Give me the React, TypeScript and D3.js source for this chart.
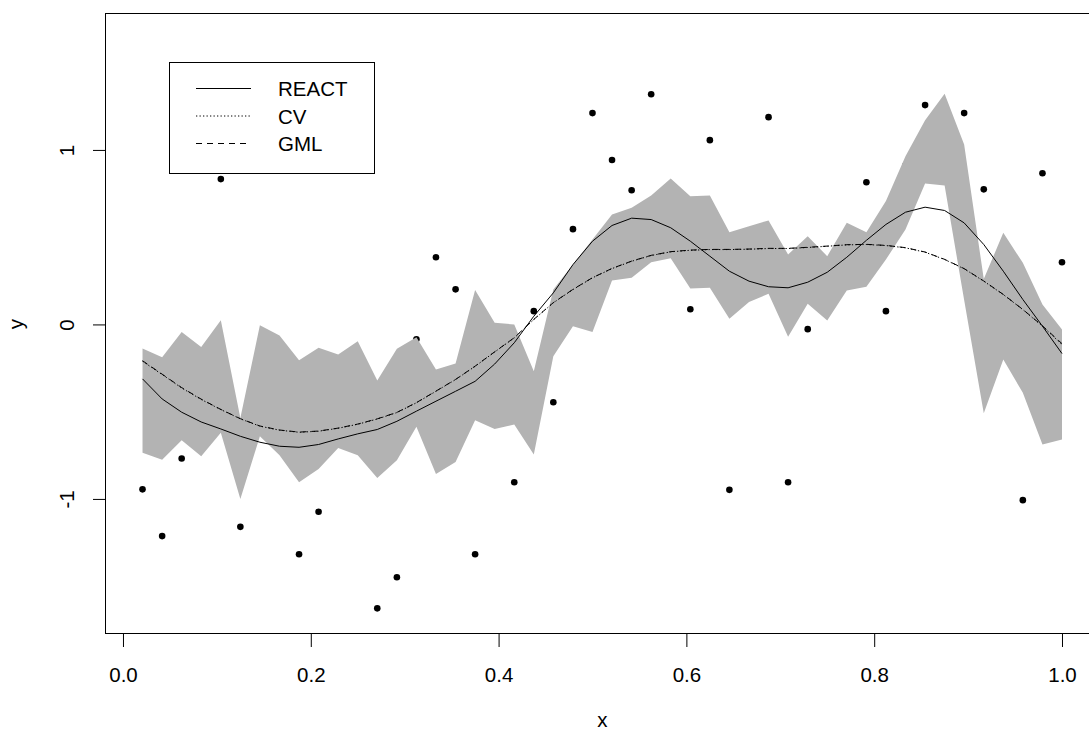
import * as d3 from "d3";
import { useEffect, useRef } from "react";

// design points (x = i/48)
const gridX = [
  0.0208, 0.0417, 0.0625, 0.0833, 0.1042, 0.125, 0.1458, 0.1667, 0.1875, 0.2083, 0.2292, 0.25,
  0.2708, 0.2917, 0.3125, 0.3333, 0.3542, 0.375, 0.3958, 0.4167, 0.4375, 0.4583, 0.4792, 0.5,
  0.5208, 0.5417, 0.5625, 0.5833, 0.6042, 0.625, 0.6458, 0.6667, 0.6875, 0.7083, 0.7292, 0.75,
  0.7708, 0.7917, 0.8125, 0.8333, 0.8542, 0.875, 0.8958, 0.9167, 0.9375, 0.9583, 0.9792, 1.0,
];

const bandUpper = [
  -0.138, -0.188, -0.043, -0.129, 0.024, -0.536, -0.004, -0.064, -0.205, -0.134, -0.172, -0.096,
  -0.321, -0.14, -0.073, -0.258, -0.224, 0.197, 0.009, 0.0, -0.268, 0.2, 0.344, 0.487,
  0.63, 0.668, 0.739, 0.836, 0.735, 0.739, 0.529, 0.563, 0.596, 0.401, 0.506, 0.391,
  0.583, 0.529, 0.707, 0.964, 1.17, 1.322, 1.031, 0.26, 0.525, 0.353, 0.114, -0.029,
];

const bandLower = [
  -0.736, -0.775, -0.664, -0.756, -0.621, -1.0, -0.641, -0.75, -0.905, -0.828, -0.708, -0.75,
  -0.88, -0.778, -0.587, -0.857, -0.788, -0.549, -0.599, -0.574, -0.746, -0.182, -0.01, -0.043,
  0.252, 0.267, 0.357, 0.38, 0.206, 0.21, 0.032, 0.128, 0.176, -0.071, 0.118, 0.022,
  0.195, 0.216, 0.372, 0.544, 0.808, 0.796, 0.14, -0.509, -0.201, -0.392, -0.688, -0.659,
];

const reactFit = [
  -0.312, -0.427, -0.503, -0.559, -0.599, -0.641, -0.675, -0.698, -0.704, -0.688, -0.656, -0.627,
  -0.602, -0.555, -0.497, -0.44, -0.383, -0.326, -0.227, -0.105, 0.047, 0.181, 0.343, 0.477,
  0.567, 0.609, 0.601, 0.554, 0.477, 0.391, 0.305, 0.248, 0.216, 0.21, 0.242, 0.299,
  0.385, 0.482, 0.573, 0.643, 0.672, 0.653, 0.582, 0.458, 0.305, 0.143, -0.01, -0.167,
];

const cvFit = [
  -0.211, -0.287, -0.364, -0.43, -0.488, -0.541, -0.583, -0.606, -0.618, -0.612, -0.595, -0.572,
  -0.542, -0.505, -0.449, -0.383, -0.316, -0.24, -0.158, -0.077, 0.028, 0.124, 0.2, 0.267,
  0.32, 0.362, 0.395, 0.416, 0.425, 0.429, 0.429, 0.431, 0.435, 0.435, 0.441, 0.448,
  0.456, 0.458, 0.452, 0.439, 0.414, 0.372, 0.319, 0.248, 0.171, 0.085, -0.01, -0.115,
];

const gmlFit = [
  -0.208, -0.285, -0.362, -0.428, -0.487, -0.54, -0.582, -0.605, -0.617, -0.611, -0.594, -0.571,
  -0.541, -0.504, -0.448, -0.382, -0.315, -0.239, -0.157, -0.076, 0.029, 0.125, 0.201, 0.268,
  0.321, 0.363, 0.396, 0.417, 0.426, 0.43, 0.43, 0.432, 0.436, 0.436, 0.442, 0.449,
  0.457, 0.459, 0.453, 0.44, 0.415, 0.373, 0.32, 0.249, 0.172, 0.086, -0.008, -0.11,
];

const pointX = [
  0.0208, 0.0417, 0.0625, 0.1042, 0.125, 0.1875, 0.2083, 0.2708, 0.2917, 0.3125, 0.3333, 0.3542,
  0.375, 0.4167, 0.4375, 0.4583, 0.4792, 0.5, 0.5208, 0.5417, 0.5625, 0.6042, 0.625, 0.6458,
  0.6875, 0.7083, 0.7292, 0.7917, 0.8125, 0.8333, 0.8542, 0.8958, 0.9167, 0.9583, 0.9792, 1.0,
];
const pointY = [
  -0.945, -1.213, -0.768, 0.833, -1.16, -1.317, -1.073, -1.627, -1.449, -0.085, 0.385, 0.201,
  -1.317, -0.904, 0.076, -0.446, 0.546, 1.211, 0.942, 0.769, 1.319, 0.087, 1.056, -0.948,
  1.188, -0.904, -0.027, 0.815, 0.076, 0.91, 1.257, 1.211, 0.774, -1.007, 0.866, 0.356,
];

const xTicks = [0, 0.2, 0.4, 0.6, 0.8, 1.0];
const yTicks = [-1, 0, 1];
const legendItems = [
  { label: "REACT", dash: null },
  { label: "CV", dash: "1.3,2.2" },
  { label: "GML", dash: "6,5" },
];

const FONT = "'Liberation Sans', Arial, Helvetica, sans-serif";
const FS = 20.5;

function drawPlot(svgElement: SVGSVGElement) {
  const width = 1089;
  const height = 732;
  const plot = { left: 105.8, right: 1098.8, top: 14, bottom: 634 };
  const svg = d3.select(svgElement);
  svg.selectAll("*").remove();
  svg.attr("width", width).attr("height", height).attr("viewBox", `0 0 ${width} ${height}`);

  const x = d3.scaleLinear().domain([-0.0183, 1.0392]).range([plot.left, plot.right]);
  const y = d3.scaleLinear().domain([-1.774, 1.779]).range([plot.bottom, plot.top]);

  svg.append("rect").attr("width", width).attr("height", height).attr("fill", "#fff");

  // observations (drawn first, the band covers some of them)
  svg
    .append("g")
    .selectAll("circle")
    .data(pointX.map((px, k) => [px, pointY[k]]))
    .join("circle")
    .attr("cx", (d) => x(d[0]))
    .attr("cy", (d) => y(d[1]))
    .attr("r", 3.3)
    .attr("fill", "#000");

  const area = d3
    .area<number>()
    .x((d) => x(d))
    .y0((_, k) => y(bandLower[k]))
    .y1((_, k) => y(bandUpper[k]));

  svg.append("path").attr("d", area(gridX)).attr("fill", "#b3b3b3");

  const fits: [number[], string | null][] = [
    [reactFit, null],
    [cvFit, "1.3,2.2"],
    [gmlFit, "6,5"],
  ];
  fits.forEach(([vals, dash]) => {
    const line = d3
      .line<number>()
      .x((d) => x(d))
      .y((_, k) => y(vals[k]));
    svg
      .append("path")
      .attr("d", line(gridX))
      .attr("fill", "none")
      .attr("stroke", "#000")
      .attr("stroke-width", 1)
      .attr("stroke-dasharray", dash);
  });

  // box
  svg
    .append("rect")
    .attr("x", Math.round(plot.left) - 0.5)
    .attr("y", plot.top - 0.5)
    .attr("width", plot.right - plot.left)
    .attr("height", plot.bottom - plot.top)
    .attr("fill", "none")
    .attr("stroke", "#000")
    .attr("stroke-width", 1);

  const xAxis = svg
    .append("g")
    .attr("transform", `translate(0,${plot.bottom})`)
    .call(
      d3
        .axisBottom(x)
        .tickValues(xTicks)
        .tickSize(13)
        .tickPadding(20)
        .tickFormat((d) => d3.format(".1f")(d as number))
    );
  xAxis.select(".domain").remove();
  xAxis.selectAll("text").attr("font-size", FS).attr("font-family", FONT).attr("fill", "#000");

  const yAxis = svg
    .append("g")
    .attr("transform", `translate(${Math.round(plot.left)},0)`)
    .call(d3.axisLeft(y).tickValues(yTicks).tickSize(13).tickFormat((d) => String(d)));
  yAxis.select(".domain").remove();
  yAxis
    .selectAll("text")
    .attr("x", null)
    .attr("dy", null)
    .attr("text-anchor", "middle")
    .attr("transform", "translate(-32,0) rotate(-90)")
    .attr("font-size", FS)
    .attr("font-family", FONT)
    .attr("fill", "#000");

  svg
    .append("text")
    .attr("x", (plot.left + plot.right) / 2)
    .attr("y", 727)
    .attr("text-anchor", "middle")
    .attr("font-size", FS)
    .attr("font-family", FONT)
    .text("x");

  svg
    .append("text")
    .attr("transform", `translate(23,${(plot.top + plot.bottom) / 2}) rotate(-90)`)
    .attr("text-anchor", "middle")
    .attr("font-size", FS)
    .attr("font-family", FONT)
    .text("y");

  // legend
  const legend = svg.append("g");
  legend
    .append("rect")
    .attr("x", 169.5)
    .attr("y", 62.5)
    .attr("width", 205)
    .attr("height", 111)
    .attr("fill", "#fff")
    .attr("stroke", "#000");
  legendItems.forEach((item, k) => {
    const rowY = 88.5 + k * 27.5;
    legend
      .append("line")
      .attr("x1", 196)
      .attr("x2", 251)
      .attr("y1", rowY)
      .attr("y2", rowY)
      .attr("stroke", "#000")
      .attr("stroke-dasharray", item.dash);
    legend
      .append("text")
      .attr("x", 278)
      .attr("y", rowY + 7.5)
      .attr("font-size", FS)
      .attr("font-family", FONT)
      .text(item.label);
  });
}

export default function App() {
  const svgRef = useRef<SVGSVGElement>(null);

  useEffect(() => {
    if (svgRef.current) drawPlot(svgRef.current);
  }, []);

  return (
    <div style={{ position: "absolute", left: 0, top: 0 }}>
      <svg ref={svgRef} style={{ display: "block" }} />
    </div>
  );
}
